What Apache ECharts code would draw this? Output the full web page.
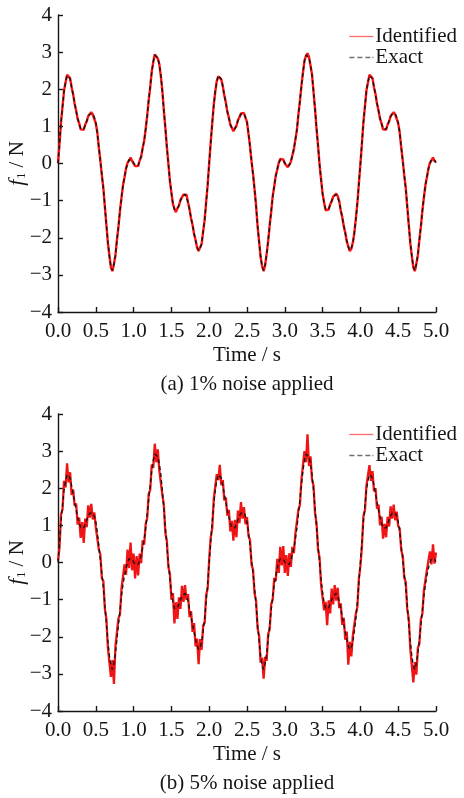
<!DOCTYPE html>
<html>
<head>
<meta charset="utf-8">
<title>f1 identification</title>
<script src="https://cdn.jsdelivr.net/npm/echarts@6/dist/echarts.min.js"></script>
<style>
  html, body { margin: 0; padding: 0; background: #fff; }
  #chart { width: 464px; height: 798px; }
</style>
</head>
<body>
<div id="chart"></div>
<script>
// sample spacing of all series, seconds
const step = 0.02

// exact force (0 .. 5 s)
const exactF = [
  0.00, 0.55, 1.10, 1.55, 1.95, 2.20, 2.37, 2.38, 2.28, 2.07,
  1.85, 1.63, 1.41, 1.22, 1.06, 0.94, 0.89, 0.93, 1.03, 1.15,
  1.26, 1.33, 1.36, 1.34, 1.25, 1.10, 0.82, 0.45, 0.07, -0.30,
  -0.68, -1.15, -1.67, -2.12, -2.50, -2.78, -2.88, -2.72, -2.45, -2.07,
  -1.68, -1.28, -0.90, -0.60, -0.35, -0.15, 0.00, 0.10, 0.14, 0.09,
  0.02, -0.05, -0.08, -0.05, 0.06, 0.20, 0.40, 0.63, 0.92, 1.30,
  1.70, 2.08, 2.46, 2.75, 2.92, 2.95, 2.85, 2.66, 2.38, 1.95,
  1.45, 0.95, 0.46, -0.02, -0.45, -0.80, -1.07, -1.24, -1.29, -1.22,
  -1.12, -1.00, -0.91, -0.86, -0.83, -0.86, -1.03, -1.25, -1.46, -1.67,
  -1.88, -2.08, -2.25, -2.34, -2.28, -2.15, -1.85, -1.50, -1.05, -0.55,
  0.00,
  0.55, 1.10, 1.55, 1.95, 2.20, 2.37, 2.38, 2.28, 2.07,
  1.85, 1.63, 1.41, 1.22, 1.06, 0.94, 0.89, 0.93, 1.03, 1.15,
  1.26, 1.33, 1.36, 1.34, 1.25, 1.10, 0.82, 0.45, 0.07, -0.30,
  -0.68, -1.15, -1.67, -2.12, -2.50, -2.78, -2.88, -2.72, -2.45, -2.07,
  -1.68, -1.28, -0.90, -0.60, -0.35, -0.15, 0.00, 0.10, 0.14, 0.09,
  0.02, -0.05, -0.08, -0.05, 0.06, 0.20, 0.40, 0.63, 0.92, 1.30,
  1.70, 2.08, 2.46, 2.75, 2.92, 2.95, 2.85, 2.66, 2.38, 1.95,
  1.45, 0.95, 0.46, -0.02, -0.45, -0.80, -1.07, -1.24, -1.29, -1.22,
  -1.12, -1.00, -0.91, -0.86, -0.83, -0.86, -1.03, -1.25, -1.46, -1.67,
  -1.88, -2.08, -2.25, -2.34, -2.28, -2.15, -1.85, -1.50, -1.05, -0.55,
  0.00,
  0.55, 1.10, 1.55, 1.95, 2.20, 2.37, 2.38, 2.28, 2.07,
  1.85, 1.63, 1.41, 1.22, 1.06, 0.94, 0.89, 0.93, 1.03, 1.15,
  1.26, 1.33, 1.36, 1.34, 1.25, 1.10, 0.82, 0.45, 0.07, -0.30,
  -0.68, -1.15, -1.67, -2.12, -2.50, -2.78, -2.88, -2.72, -2.45, -2.07,
  -1.68, -1.28, -0.90, -0.60, -0.35, -0.15, 0.00, 0.10, 0.14, 0.09,
  0.02
]

// identified force, 1% noise (panel a)
const identifiedA = [
  0.02, 0.52, 1.12, 1.53, 1.97, 2.18, 2.39, 2.36, 2.30, 2.05,
  1.87, 1.61, 1.43, 1.20, 1.08, 0.92, 0.91, 0.91, 1.05, 1.13,
  1.28, 1.31, 1.38, 1.32, 1.27, 1.08, 0.84, 0.43, 0.09, -0.32,
  -0.66, -1.17, -1.65, -2.14, -2.48, -2.80, -2.90, -2.70, -2.47, -2.05,
  -1.70, -1.26, -0.92, -0.58, -0.37, -0.13, 0.02, 0.08, 0.16, 0.07,
  0.04, -0.07, -0.06, -0.07, 0.08, 0.18, 0.42, 0.61, 0.94, 1.28,
  1.72, 2.06, 2.48, 2.73, 2.94, 2.97, 2.83, 2.68, 2.36, 1.97,
  1.43, 0.97, 0.44, 0.00, -0.47, -0.78, -1.09, -1.22, -1.31, -1.20,
  -1.14, -0.98, -0.93, -0.84, -0.85, -0.84, -1.05, -1.23, -1.48, -1.65,
  -1.90, -2.06, -2.27, -2.36, -2.26, -2.17, -1.83, -1.52, -1.03, -0.57,
  0.02,
  0.57, 1.08, 1.57, 1.93, 2.22, 2.35, 2.40, 2.26, 2.09,
  1.83, 1.65, 1.39, 1.24, 1.04, 0.96, 0.87, 0.95, 1.01, 1.17,
  1.24, 1.35, 1.34, 1.36, 1.23, 1.12, 0.80, 0.47, 0.05, -0.28,
  -0.70, -1.13, -1.69, -2.10, -2.52, -2.76, -2.90, -2.74, -2.43, -2.09,
  -1.66, -1.30, -0.88, -0.62, -0.33, -0.17, 0.02, 0.12, 0.12, 0.11,
  0.00, -0.03, -0.10, -0.03, 0.04, 0.22, 0.38, 0.65, 0.90, 1.32,
  1.68, 2.10, 2.44, 2.77, 2.90, 2.97, 2.87, 2.64, 2.40, 1.93,
  1.47, 0.93, 0.48, -0.04, -0.43, -0.82, -1.05, -1.26, -1.27, -1.24,
  -1.10, -1.02, -0.89, -0.88, -0.81, -0.88, -1.01, -1.27, -1.44, -1.69,
  -1.86, -2.10, -2.23, -2.36, -2.30, -2.13, -1.87, -1.48, -1.07, -0.53,
  -0.02,
  0.53, 1.12, 1.53, 1.97, 2.18, 2.39, 2.36, 2.30, 2.05,
  1.87, 1.61, 1.43, 1.20, 1.08, 0.92, 0.91, 0.91, 1.05, 1.13,
  1.28, 1.31, 1.38, 1.32, 1.27, 1.08, 0.84, 0.43, 0.09, -0.32,
  -0.66, -1.17, -1.65, -2.14, -2.48, -2.80, -2.90, -2.70, -2.47, -2.05,
  -1.70, -1.26, -0.92, -0.58, -0.37, -0.13, 0.02, 0.08, 0.16, 0.07,
  0.04
]

// identified force, 5% noise (panel b)
const identifiedB = [
  0.05, 0.40, 1.30, 1.43, 2.20, 2.02, 2.67, 2.16, 2.43, 1.82,
  1.97, 1.53, 1.59, 1.02, 1.21, 0.66, 1.09, 0.53, 1.18, 0.95,
  1.54, 1.21, 1.58, 1.16, 1.35, 0.95, 0.94, 0.35, 0.22, -0.42,
  -0.50, -1.25, -1.52, -2.30, -2.28, -3.08, -2.63, -3.27, -2.25, -2.22,
  -1.50, -1.40, -0.70, -0.75, -0.05, -0.33, 0.35, -0.15, 0.54, -0.21,
  0.24, -0.43, 0.17, -0.35, 0.24, -0.02, 0.60, 0.48, 1.04, 1.20,
  1.85, 1.96, 2.64, 2.55, 3.20, 2.70, 3.05, 2.48, 2.53, 1.83,
  1.55, 0.80, 0.58, -0.12, -0.30, -1.00, -0.82, -1.64, -1.07, -1.52,
  -0.94, -1.25, -0.63, -1.06, -0.61, -1.01, -0.85, -1.47, -1.31, -1.87,
  -1.63, -2.26, -2.05, -2.74, -2.06, -2.35, -1.70, -1.62, -0.87, -0.70,
  0.10,
  0.67, 0.92, 1.70, 1.75, 2.38, 2.22, 2.63, 2.08, 2.22,
  1.67, 1.75, 1.26, 1.42, 0.84, 1.12, 0.59, 1.15, 0.68, 1.40,
  1.06, 1.63, 1.18, 1.49, 1.03, 1.22, 0.72, 0.60, -0.05, -0.20,
  -0.83, -1.03, -1.77, -1.97, -2.70, -2.56, -3.13, -2.54, -2.65, -1.92,
  -1.80, -1.13, -1.00, -0.42, -0.50, 0.10, -0.28, 0.42, -0.08, 0.44,
  -0.28, 0.20, -0.36, 0.25, -0.12, 0.42, 0.25, 0.78, 0.80, 1.42,
  1.55, 2.23, 2.28, 3.00, 2.70, 3.45, 2.60, 2.86, 2.23, 2.07,
  1.33, 1.05, 0.34, 0.13, -0.60, -0.60, -1.29, -1.06, -1.69, -1.02,
  -1.37, -0.70, -1.13, -0.61, -1.03, -0.68, -1.23, -1.10, -1.68, -1.49,
  -2.08, -1.86, -2.75, -2.14, -2.53, -1.97, -2.00, -1.38, -1.20, -0.43,
  -0.10,
  0.43, 1.25, 1.40, 2.07, 2.05, 2.62, 2.20, 2.46, 1.92,
  2.00, 1.45, 1.56, 1.00, 1.24, 0.64, 1.04, 0.68, 1.23, 0.97,
  1.51, 1.18, 1.56, 1.14, 1.37, 0.98, 0.92, 0.33, 0.19, -0.40,
  -0.53, -1.27, -1.52, -2.32, -2.32, -3.23, -2.68, -3.02, -2.30, -2.19,
  -1.53, -1.38, -0.75, -0.72, -0.20, -0.25, 0.30, -0.05, 0.49, -0.03,
  0.27
]

const captions = ['(a) 1% noise applied', '(b) 5% noise applied']
const legendNames = ['Identified', 'Exact']

const font = 'Liberation Serif'
const ink = '#151515'
const fs = 21

// time axis for the samples
const pairs = (arr) => arr.map((v, i) => [+(i * step).toFixed(2), v])

// one x/y axis pair per panel
const xAxisOf = (idx) => ({
  type: 'value',
  gridIndex: idx,
  min: 0,
  max: 5,
  interval: 0.5,
  name: 'Time / s',
  nameLocation: 'middle',
  nameGap: 33,
  nameTextStyle: { fontFamily: font, fontSize: fs, color: ink },
  axisLine: { show: true, onZero: false, lineStyle: { color: ink, width: 1.4 } },
  axisTick: { show: true, inside: true, length: 5, lineStyle: { color: ink, width: 1.4 } },
  axisLabel: {
    margin: 9,
    fontFamily: font,
    fontSize: fs,
    color: ink,
    formatter: (v) => v.toFixed(1)
  },
  splitLine: { show: false }
})

const yAxisOf = (idx) => ({
  type: 'value',
  gridIndex: idx,
  min: -4,
  max: 4,
  interval: 1,
  name: '{f|f}{s|1}{n| / N}',
  nameLocation: 'middle',
  nameRotate: 90,
  nameGap: 30,
  nameMoveOverlap: false,
  nameTextStyle: {
    fontFamily: font,
    fontSize: fs,
    color: ink,
    rich: {
      f: { fontFamily: font, fontSize: 22, fontStyle: 'italic', color: ink, lineHeight: 22 },
      s: { fontFamily: font, fontSize: 12, color: ink, lineHeight: 22, padding: [10, 0, 0, 1] },
      n: { fontFamily: font, fontSize: fs, color: ink, lineHeight: 22 }
    }
  },
  axisLine: { show: true, lineStyle: { color: ink, width: 1.4 } },
  axisTick: { show: true, inside: true, length: 5, lineStyle: { color: ink, width: 1.4 } },
  axisLabel: {
    margin: 6,
    fontFamily: font,
    fontSize: fs,
    color: ink,
    formatter: (v) => String(v).replace('-', '\u2212')
  },
  splitLine: { show: false }
})

// legend keys drawn as plain strokes: solid red, dashed grey
const solidKey = 'path://M0,0h24v1.3h-24z'
const dashKey = 'path://M0,0h5v1.3h-5z M8,0h5v1.3h-5z M16,0h5v1.3h-5z M23,0h1v1.3h-1z'

const legendOf = (top) => ({
  orient: 'vertical',
  right: 2,
  top: top,
  itemWidth: 24,
  itemHeight: 14,
  itemGap: 0,
  symbolKeepAspect: true,
  data: [
    { name: legendNames[0], icon: solidKey, itemStyle: { color: '#ff6a6a' } },
    { name: legendNames[1], icon: dashKey, itemStyle: { color: '#707070' } }
  ],
  textStyle: { fontFamily: font, fontSize: fs, color: ink, lineHeight: 19, padding: [0, 0, 0, -3] }
})

const chart = echarts.init(document.getElementById('chart'), null, { renderer: 'canvas' })

chart.setOption({
  animation: false,
  backgroundColor: '#fff',
  grid: [
    { left: 58, top: 15, width: 378, height: 297, outerBoundsMode: 'none' },
    { left: 58, top: 414, width: 378, height: 297, outerBoundsMode: 'none' }
  ],
  xAxis: [xAxisOf(0), xAxisOf(1)],
  yAxis: [yAxisOf(0), yAxisOf(1)],
  legend: [legendOf(21), legendOf(419)],
  series: [
    {
      name: legendNames[0],
      type: 'line',
      xAxisIndex: 0,
      yAxisIndex: 0,
      data: pairs(identifiedA),
      symbol: 'none',
      lineStyle: { color: '#ff1414', width: 2.4 },
      itemStyle: { color: '#ff1414' }
    },
    {
      name: legendNames[1],
      type: 'line',
      xAxisIndex: 0,
      yAxisIndex: 0,
      data: pairs(exactF),
      symbol: 'none',
      lineStyle: { color: '#111', width: 1.4, type: [4, 3] },
      itemStyle: { color: '#111' }
    },
    {
      name: legendNames[0],
      type: 'line',
      xAxisIndex: 1,
      yAxisIndex: 1,
      data: pairs(identifiedB),
      symbol: 'none',
      lineStyle: { color: '#f01414', width: 2.3 },
      itemStyle: { color: '#f01414' }
    },
    {
      name: legendNames[1],
      type: 'line',
      xAxisIndex: 1,
      yAxisIndex: 1,
      data: pairs(exactF),
      symbol: 'none',
      lineStyle: { color: '#111', width: 1.3, type: [4, 3] },
      itemStyle: { color: '#111' }
    }
  ],
  // panel captions under each plot
  graphic: [
    {
      type: 'text',
      x: 247,
      y: 384,
      style: { text: captions[0], fill: ink, font: fs + 'px "Liberation Serif"', textAlign: 'center', textVerticalAlign: 'middle' }
    },
    {
      type: 'text',
      x: 247,
      y: 783,
      style: { text: captions[1], fill: ink, font: fs + 'px "Liberation Serif"', textAlign: 'center', textVerticalAlign: 'middle' }
    }
  ]
})
</script>
</body>
</html>
